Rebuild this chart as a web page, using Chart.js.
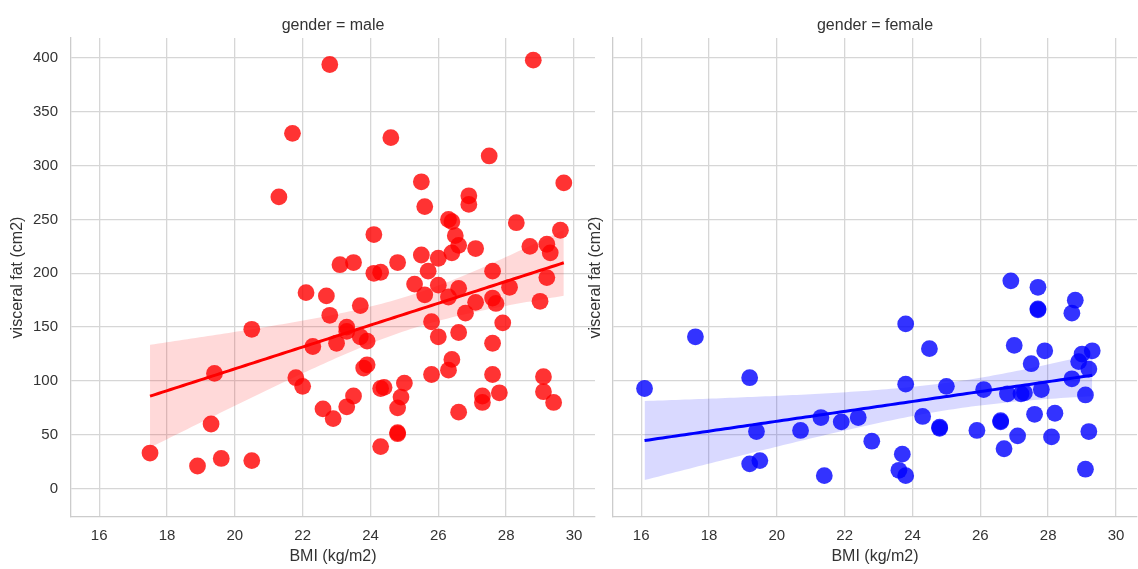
<!DOCTYPE html>
<html>
<head>
<meta charset="utf-8">
<script src="https://cdn.jsdelivr.net/npm/chart.js@4.4.1/dist/chart.umd.min.js"></script>
<style>
  html, body { margin: 0; padding: 0; background: #ffffff; }
  #wrap { position: relative; width: 1138px; height: 569px; overflow: hidden; background: #ffffff; }
  #wrap canvas { position: absolute; top: 0; }
  #male { left: 0; }
  #female { left: 586px; }
</style>
</head>
<body>
<div id="wrap">
  <canvas id="male" width="600" height="569"></canvas>
  <canvas id="female" width="552" height="569"></canvas>
</div>
<script>
// BMI (kg/m2) and visceral fat (cm2), one pair of arrays per gender
const maleBMI = [17.5, 18.9, 19.3, 19.4, 19.6, 20.5, 20.5, 21.3, 21.7, 21.8, 22.0, 22.1, 22.3, 22.6, 22.7, 22.8, 22.8, 22.9, 23.0, 23.1,
  23.3, 23.3, 23.3, 23.5, 23.5, 23.7, 23.7, 23.8, 23.9, 23.9, 24.1, 24.1, 24.3, 24.3, 24.4, 24.3, 24.6, 24.8, 24.8, 24.8,
  24.8, 24.9, 25.0, 25.3, 25.5, 25.5, 25.6, 25.6, 25.7, 25.8, 25.8, 26.0, 26.0, 26.0, 26.3, 26.4, 26.3, 26.3, 26.4, 26.4,
  26.5, 26.6, 26.6, 26.6, 26.6, 26.8, 26.9, 26.9, 27.1, 27.1, 27.3, 27.3, 27.5, 27.6, 27.6, 27.7, 27.6, 27.6, 27.8, 27.9,
  28.1, 28.3, 28.7, 28.8, 29.0, 29.2, 29.3, 29.2, 29.1, 29.1, 29.4, 29.6, 29.7];
const maleFat = [33, 21, 60, 107, 28, 26, 148, 271, 330, 103, 95, 182, 132, 74, 179, 161, 394, 65, 135, 208,
  150, 146, 76, 210, 86, 170, 141, 112, 115, 137, 236, 200, 201, 93, 94, 39, 326, 210, 75, 51,
  52, 85, 98, 190, 285, 217, 262, 180, 202, 155, 106, 214, 189, 141, 250, 248, 178, 110, 120, 219,
  235, 226, 186, 145, 71, 163, 272, 264, 223, 173, 86, 80, 309, 202, 177, 172, 135, 106, 89, 154,
  187, 247, 225, 398, 174, 227, 219, 196, 104, 90, 80, 240, 284];

const femaleBMI = [16.1, 17.6, 19.2, 19.4, 19.2, 19.5, 20.7, 21.3, 21.4, 21.9, 22.4, 22.8, 23.8, 23.8, 23.7, 23.6, 23.8, 24.5, 24.3, 24.8,
  24.8, 25.0, 25.9, 26.1, 26.6, 26.6, 26.7, 26.9, 27.0, 26.8, 27.1, 27.2, 27.3, 27.5, 27.6, 27.7, 27.7, 27.7, 27.8, 27.9,
  28.2, 28.1, 28.8, 28.7, 28.7, 29.0, 28.9, 29.3, 29.2, 29.1, 29.2, 29.1];
const femaleFat = [93, 141, 103, 53, 23, 26, 54, 66, 12, 62, 66, 44, 153, 97, 32, 17, 12, 130, 67, 57,
  56, 95, 54, 92, 63, 62, 37, 193, 133, 88, 49, 88, 89, 116, 69, 187, 167, 166, 92, 128,
  70, 48, 175, 163, 102, 125, 118, 128, 111, 87, 53, 18];

const xTicks = [16, 18, 20, 22, 24, 26, 28, 30];
const yTicks = [0, 50, 100, 150, 200, 250, 300, 350, 400];
const panelTitles = ['gender = male', 'gender = female'];
const xLabel = 'BMI (kg/m2)';
const yLabel = 'visceral fat (cm2)';

const FONT = '"Liberation Sans", Arial, Helvetica, sans-serif';
const TEXT = '#333333';
const GRID = '#d6d6d6';

// Least-squares fit with a 95% confidence band, evaluated across the data range
function fitWithBand(xs, ys, steps) {
  const n = xs.length;
  const mx = xs.reduce((s, v) => s + v, 0) / n;
  const my = ys.reduce((s, v) => s + v, 0) / n;
  let sxx = 0, sxy = 0;
  for (let i = 0; i < n; i++) { sxx += (xs[i] - mx) ** 2; sxy += (xs[i] - mx) * (ys[i] - my); }
  const b = sxy / sxx, a = my - b * mx;
  let sse = 0;
  for (let i = 0; i < n; i++) sse += (ys[i] - a - b * xs[i]) ** 2;
  const s = Math.sqrt(sse / (n - 2));
  const t = 1.96 + 2.5 / (n - 2);
  const lo = Math.min(...xs), hi = Math.max(...xs);
  const line = [], upper = [], lower = [];
  for (let k = 0; k <= steps; k++) {
    const x = lo + (hi - lo) * k / steps;
    const yhat = a + b * x;
    const half = t * s * Math.sqrt(1 / n + (x - mx) ** 2 / sxx);
    line.push({ x, y: yhat });
    upper.push({ x, y: yhat + half });
    lower.push({ x, y: yhat - half });
  }
  return { line, upper, lower };
}

// Panel heading drawn centred over the plotting area
const panelTitlePlugin = {
  id: 'panelTitle',
  afterDraw(chart, args, opts) {
    const { ctx, chartArea } = chart;
    ctx.save();
    ctx.font = '16px ' + FONT;
    ctx.fillStyle = TEXT;
    ctx.textAlign = 'center';
    ctx.textBaseline = 'alphabetic';
    ctx.fillText(opts.text, (chartArea.left + chartArea.right) / 2, 30);
    ctx.restore();
  }
};

function makePanel(canvasId, xs, ys, rgb, title, opts) {
  const fit = fitWithBand(xs, ys, 100);
  const pts = xs.map((x, i) => ({ x, y: ys[i] }));
  const solid = `rgb(${rgb})`;
  return new Chart(document.getElementById(canvasId), {
    type: 'scatter',
    data: {
      datasets: [
        { type: 'scatter', data: pts, order: 3, pointRadius: 8.4, pointHoverRadius: 8.4,
          backgroundColor: `rgba(${rgb},0.8)`, borderWidth: 0 },
        { type: 'line', data: fit.upper, order: 2, pointRadius: 0, borderWidth: 0,
          borderColor: 'transparent', fill: false },
        { type: 'line', data: fit.lower, order: 2, pointRadius: 0, borderWidth: 0,
          borderColor: 'transparent', fill: '-1', backgroundColor: `rgba(${rgb},0.15)` },
        { type: 'line', data: fit.line, order: 1, pointRadius: 0, borderWidth: 3,
          borderColor: solid, fill: false, tension: 0 }
      ]
    },
    options: {
      responsive: false,
      animation: false,
      devicePixelRatio: 1,
      layout: { autoPadding: false, padding: { top: 38, right: opts.padRight, bottom: 0, left: 0 } },
      plugins: {
        legend: { display: false },
        tooltip: { enabled: false },
        panelTitle: { text: title }
      },
      scales: {
        x: {
          type: 'linear', min: 15.17, max: 30.62,
          afterBuildTicks: s => { s.ticks = xTicks.map(v => ({ value: v })); },
          afterFit: s => { s.height = 52; },
          grid: { color: GRID, lineWidth: 1.3, drawTicks: false },
          border: { display: true, color: '#cccccc', width: 1.3 },
          ticks: { padding: 10, color: TEXT, font: { family: FONT, size: 15 } },
          title: { display: true, text: xLabel, color: TEXT, font: { family: FONT, size: 16 },
                   padding: { top: 0, bottom: 3 } }
        },
        y: {
          type: 'linear', min: -26.4, max: 418.6,
          afterBuildTicks: s => { s.ticks = yTicks.map(v => ({ value: v })); },
          afterFit: s => { s.width = opts.yWidth; },
          grid: { color: GRID, lineWidth: 1.3, drawTicks: false },
          border: { display: true, color: '#cccccc', width: 1.3 },
          ticks: { display: opts.showYTicks, padding: 13, color: TEXT, font: { family: FONT, size: 15 } },
          title: { display: true, text: yLabel, color: TEXT, font: { family: FONT, size: 16 },
                   padding: { top: opts.yTitlePad, bottom: 0 } }
        }
      }
    },
    plugins: [panelTitlePlugin]
  });
}

makePanel('male', maleBMI, maleFat, '255,0,0', panelTitles[0],
  { padRight: 5, yWidth: 71, showYTicks: true, yTitlePad: 8 });
makePanel('female', femaleBMI, femaleFat, '0,0,255', panelTitles[1],
  { padRight: 1, yWidth: 27, showYTicks: false, yTitlePad: 0 });
</script>
</body>
</html>
